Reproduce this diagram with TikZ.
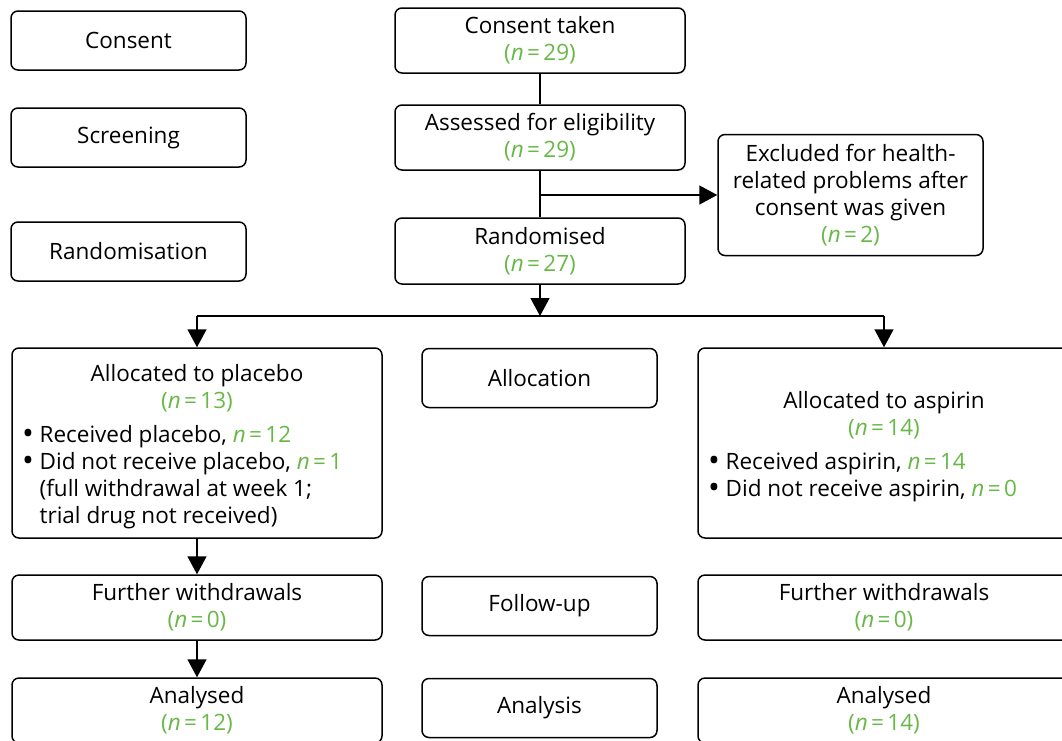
\documentclass[tikz,border=0pt]{standalone}
\usepackage{fontspec}
\setmainfont{Open Sans}
\usepackage{xcolor}
\usepackage{graphicx}
\usetikzlibrary{arrows.meta}
\definecolor{ngreen}{RGB}{104, 184, 72}
\newcommand{\nval}[1]{\textcolor{ngreen}{\textit{n}\hspace{0.15em}=\hspace{0.15em}#1}}
\newcommand{\npar}[1]{\textcolor{ngreen}{(\textit{n}\hspace{0.15em}=\hspace{0.15em}#1)}}
\newcommand{\bul}{\smash{\raisebox{-0.1em}{\scalebox{1.4}{\textbullet}}}\hspace{0.25em}}

\begin{document}
\begin{tikzpicture}[x=1pt, y=-1pt,
    box/.style={draw, line width=1.5pt, rounded corners=7pt, inner sep=0pt},
    stagebox/.style={box, minimum width=235pt, minimum height=59pt},
    txt/.style={font=\fontsize{22.5}{27}\selectfont, align=center, inner sep=0pt},
    arr/.style={line width=1.5pt, -{Triangle[width=19pt, length=18pt]}},
    lin/.style={line width=1.5pt}]
                \useasboundingbox (0,0) rectangle (1062,740);

                % Stages
                \node[stagebox, txt] (cons) at (128.5, 40.5) {Consent};
                \node[stagebox, txt] (scr) at (128.5, 137.5) {Screening};
                \node[stagebox, txt] (rndst) at (128.5, 251.5) {Randomisation};
                \node[stagebox, txt] (allst) at (539.5, 378) {Allocation};
                \node[stagebox, txt] (fupst) at (539.5, 606) {Follow-up};
                \node[stagebox, txt] (anast) at (539.5, 708) {Analysis};

                % Enrolment
                \node[box, txt, minimum width=290pt, minimum height=65pt] (ct) at (540, 40.5) {Consent taken\\\npar{29}};
                \node[box, txt, minimum width=290pt, minimum height=65pt] (ae) at (540, 137.5) {Assessed for eligibility\\\npar{29}};
                \node[box, txt, minimum width=265pt, minimum height=121pt] (exc) at (850.5, 195) {Excluded for health-\\related problems after\\consent was given\\\npar{2}};
                \node[box, txt, minimum width=290pt, minimum height=66pt] (rnd) at (540, 251) {Randomised\\\npar{27}};

                % Allocation
                \node[box, minimum width=370pt, minimum height=190pt] (plc) at (197, 443) {};
                \node[txt] at (197, 388) {Allocated to placebo\\\npar{13}};
                \node[txt, align=left, anchor=north west] at (22, 425) {\bul Received placebo, \nval{12}\\\bul Did not receive placebo, \nval{1}\\\hphantom{\bul}(full withdrawal at week 1;\\\hphantom{\bul}trial drug not received)};

                \node[box, minimum width=372pt, minimum height=190pt] (asp) at (884, 443) {};
                \node[txt] at (884, 415) {Allocated to aspirin\\\npar{14}};
                \node[txt, align=left, anchor=north west] at (708, 452) {\bul Received aspirin, \nval{14}\\\bul Did not receive aspirin, \nval{0}};

                % Follow-up and analysis
                \node[box, txt, minimum width=370pt, minimum height=65pt] (fwl) at (197, 607.5) {Further withdrawals\\\npar{0}};
                \node[box, txt, minimum width=372pt, minimum height=65pt] (fwr) at (884, 607.5) {Further withdrawals\\\npar{0}};
                \node[box, txt, minimum width=370pt, minimum height=65pt] (anl) at (197, 710.5) {Analysed\\\npar{12}};
                \node[box, txt, minimum width=372pt, minimum height=65pt] (anr) at (884, 710.5) {Analysed\\\npar{14}};

                % Connectors
                \coordinate (split) at (540, 316);
                \draw[lin] (ct) -- (ae);
                \draw[lin] (ae) -- (rnd);
                \draw[arr] (ae.south |- exc.west) -- (exc.west);
                \draw[arr] (rnd) -- (split);
                \draw[lin] (split -| plc) -- (split -| asp);
                \draw[arr] (split -| plc) -- (plc);
                \draw[arr] (split -| asp) -- (asp);
                \draw[arr] (plc) -- (fwl);
                \draw[arr] (fwl) -- (anl);
            \end{tikzpicture}
\end{document}
